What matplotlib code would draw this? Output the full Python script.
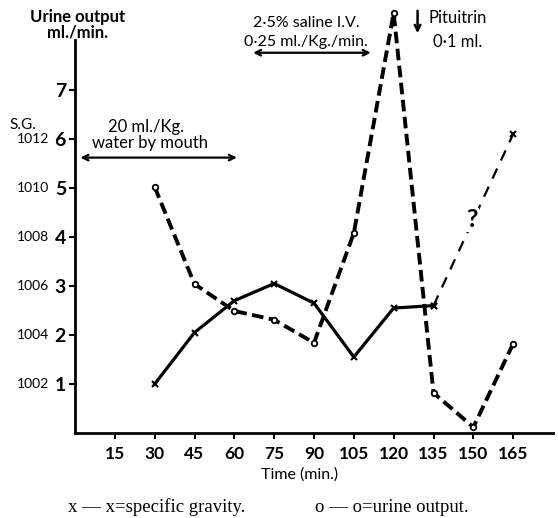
import numpy as np
import matplotlib
matplotlib.use("Agg")
import matplotlib.pyplot as plt
import matplotlib.transforms as mtransforms

time = [30, 45, 60, 75, 90, 105, 120, 135, 150, 165]
urine = [5.02, 3.04, 2.49, 2.31, 1.84, 4.08, 8.57, 0.82, 0.12, 1.82]
sg = [1002.0, 1004.1, 1005.4, 1006.1, 1005.3, 1003.1, 1005.1, 1005.2, np.nan, 1012.2]
xticks = [15, 30, 45, 60, 75, 90, 105, 120, 135, 150, 165]
uticks = [1, 2, 3, 4, 5, 6, 7]
sg_labels = ["1002", "1004", "1006", "1008", "1010", "1012"]

FONT = "Lato"
plt.rcParams['font.family'] = [FONT, 'DejaVu Sans']

W, H = 558, 518
fig = plt.figure(figsize=(W / 100, H / 100), dpi=100)
ax = fig.add_axes([75 / W, (H - 433) / H, 478 / W, 393 / H])
ax.set_xlim(0, 180)
ax.set_ylim(0, 8.02)
for s in ['top', 'right']:
    ax.spines[s].set_visible(False)
ax.spines['left'].set_linewidth(2)
ax.spines['bottom'].set_linewidth(2)


def ftext(px, py, s, **kw):
    return fig.text(px / W, 1 - py / H, s, **kw)


t = np.array(time, dtype=float)
u = np.array(urine)
g = (np.array(sg) - 1000) / 2.0

# urine output: thick dashed
ax.plot(t, u, color='black', lw=2.8, ls=(0, (3.0, 1.4)), marker='o', ms=4,
        mfc='white', mec='black', mew=1.3, clip_on=False, zorder=3)

# specific gravity: solid, then thin dashed to last point
ok = ~np.isnan(g)
ts, gs = t[ok], g[ok]
ax.plot(ts[:-1], gs[:-1], color='black', lw=2.3, marker='x', ms=4.5, mew=1.5,
        clip_on=False, zorder=3)
ax.plot(ts[-2:], gs[-2:], color='black', lw=1.6, ls=(0, (5, 4)), zorder=2)
ax.plot(ts[-2:], gs[-2:], ls='none', color='black', marker='x', ms=4.5, mew=1.5, zorder=3)
ax.text(149.6, 4.35, "?", fontsize=18, fontweight='bold', ha='center', va='center', zorder=4,
        bbox=dict(facecolor='white', edgecolor='none', pad=0.5))

ax.set_xticks(xticks)
ax.set_xticklabels([str(v) for v in xticks], fontsize=12.5, fontweight='bold')
ax.set_yticks(uticks)
ax.set_yticklabels([str(v) for v in uticks], fontsize=14, fontweight='bold')
ax.tick_params(axis='x', direction='out', length=4.5, width=1.5, pad=5)
ax.tick_params(axis='y', direction='out', length=4.5, width=1.5, pad=2)
ax.set_xlabel("Time (min.)", fontsize=11.5)
ax.xaxis.set_label_coords(84.4 / 180, -42 / 393)
ax.xaxis.label.set_va('center')

trans = mtransforms.blended_transform_factory(fig.transFigure, ax.transData)
for i, lab in enumerate(sg_labels):
    ax.text(49 / W, i + 1, lab, transform=trans, fontsize=10, ha='right',
            va='center')
ftext(23, 125, "S.G.", fontsize=11, ha='center', va='center')
ftext(78, 17, "Urine output", fontsize=12, ha='center', va='center', fontweight='bold')
ftext(78, 33, "ml./min.", fontsize=12, ha='center', va='center', fontweight='bold')

# annotations
ftext(146, 127, "20 ml./Kg.", fontsize=12, ha='center', va='center')
ftext(150, 143, "water by mouth", fontsize=12, ha='center', va='center')
ax.annotate("", xy=(1.0, 5.62), xytext=(62, 5.62),
            arrowprops=dict(arrowstyle='<->', lw=1.6, color='black'), annotation_clip=False)
ftext(306, 23, "2·5% saline I.V.", fontsize=11.5, ha='center', va='center')
ftext(306, 42, "0·25 ml./Kg./min.", fontsize=11.5, ha='center', va='center')
ax.annotate("", xy=(66, 7.76), xytext=(112.4, 7.76),
            arrowprops=dict(arrowstyle='<->', lw=1.6, color='black'), annotation_clip=False)
ax.annotate("", xy=(129, (433 - 36) / 49), xytext=(129, (433 - 8) / 49),
            arrowprops=dict(arrowstyle='->', lw=1.8, color='black'), annotation_clip=False)
ftext(428, 18, "Pituitrin", fontsize=12, ha='left', va='center')
ftext(458, 42, "0·1 ml.", fontsize=12, ha='center', va='center')

# legend
ftext(68, 507, "x — x=specific gravity.", fontsize=13.5,
      family=['Liberation Serif'], ha='left', va='center')
ftext(315, 507, "o — o=urine output.", fontsize=13.5,
      family=['Liberation Serif'], ha='left', va='center')

fig.savefig("out.png", dpi=100)
